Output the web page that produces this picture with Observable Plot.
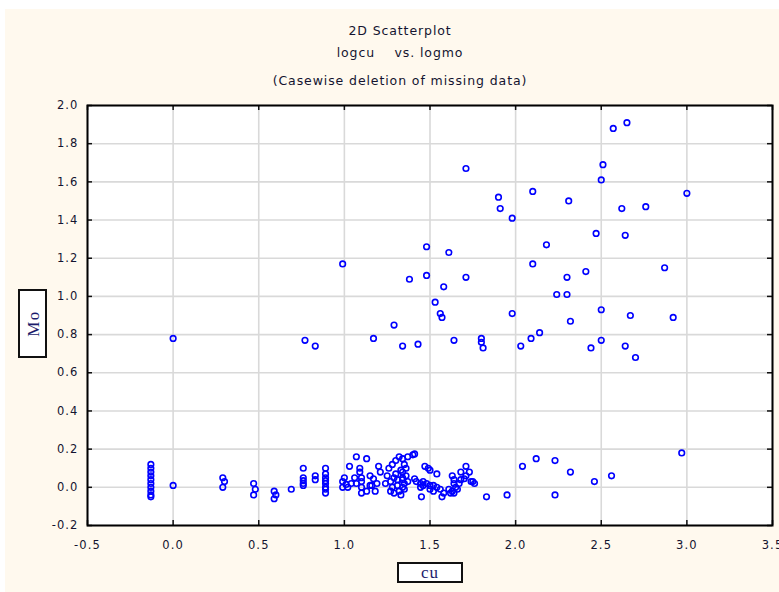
<!DOCTYPE html>
<html><head><meta charset="utf-8">
<script src="https://cdn.jsdelivr.net/npm/d3@7"></script>
<script src="https://cdn.jsdelivr.net/npm/@observablehq/plot@0.6"></script>
<style>
html,body{margin:0;padding:0;background:#fff;}
#chart svg g[aria-label$="tick label"] text{letter-spacing:1.1px;}
</style></head><body><div id="chart"></div>
<script>
const titleLines = ["2D Scatterplot", "logcu    vs. logmo", "(Casewise deletion of missing data)"];
const xLabel = "cu";
const yLabel = "Mo";
const xTicks = [-0.5, 0.0, 0.5, 1.0, 1.5, 2.0, 2.5, 3.0, 3.5];
const yTicks = [-0.2, 0.0, 0.2, 0.4, 0.6, 0.8, 1.0, 1.2, 1.4, 1.6, 1.8, 2.0];

// upper group of cases
const highCu = [2.57,2.65,2.51,2.50,1.71,2.10,1.90,1.91,1.98,2.31,3.00,2.62,2.76,2.47,2.64,2.18,1.48,1.61,0.99,2.10,
  2.87,1.48,1.38,1.71,2.30,2.41,1.58,2.24,2.30,1.53,1.56,1.57,1.98,2.50,2.67,2.92,1.29,2.32,1.17,0.77,
  0.83,1.34,1.43,1.64,1.80,1.80,1.81,2.03,2.09,2.14,2.44,2.50,2.64,2.70,0.00];
const highMo = [1.88,1.91,1.69,1.61,1.67,1.55,1.52,1.46,1.41,1.50,1.54,1.46,1.47,1.33,1.32,1.27,1.26,1.23,1.17,1.17,
  1.15,1.11,1.09,1.10,1.10,1.13,1.05,1.01,1.01,0.97,0.91,0.89,0.91,0.93,0.90,0.89,0.85,0.87,0.78,0.77,
  0.74,0.74,0.75,0.77,0.78,0.76,0.73,0.74,0.78,0.81,0.73,0.77,0.74,0.68,0.78];

// lower group of cases (near zero)
const lowCu = [-0.13,-0.13,-0.13,-0.13,-0.13,-0.13,-0.13,-0.13,-0.13,-0.13,
  0.00,0.29,0.30,0.29,0.47,0.48,0.47,0.59,0.60,0.59,0.69,
  0.76,0.76,0.76,0.76,0.76,0.83,0.83,0.89,0.89,0.89,0.89,0.89,0.89,0.89,0.89,
  0.99,0.99,1.00,1.01,1.02,1.04,1.03,1.07,1.13,1.09,1.09,1.10,1.10,1.10,1.10,1.06,1.07,
  1.15,1.17,1.16,1.13,1.15,1.20,1.21,1.19,1.18,1.24,
  1.26,1.28,1.30,1.32,1.34,1.37,
  1.25,1.27,1.28,1.29,1.30,1.31,1.31,1.32,1.33,1.34,1.35,1.35,1.36,1.37,1.27,1.29,1.33,1.36,
  1.40,1.41,1.35,1.34,1.34,1.34,1.41,1.42,
  1.445,1.46,1.48,1.50,1.52,1.54,1.56,1.52,1.50,1.445,1.46,
  1.45,1.47,1.49,1.50,1.54,1.57,1.58,
  1.61,1.62,1.64,1.63,1.64,1.65,1.67,1.66,1.68,1.70,1.71,1.71,1.73,1.74,1.75,1.76,1.68,1.63,1.64,
  1.83,1.95,2.04,2.12,2.23,2.23,2.32,2.46,2.56,2.97];
const lowMo = [0.12,0.10,0.08,0.06,0.04,0.02,0.00,-0.02,-0.04,-0.05,
  0.01,0.05,0.03,0.00,0.02,-0.01,-0.04,-0.02,-0.04,-0.06,-0.01,
  0.10,0.05,0.035,0.02,0.01,0.06,0.04,0.10,0.07,0.05,0.035,0.02,0.00,-0.01,-0.03,
  0.00,0.03,0.05,0.015,0.00,0.02,0.11,0.16,0.15,0.10,0.08,0.05,0.03,0.00,-0.03,0.05,0.02,
  0.06,0.045,0.01,-0.02,0.01,0.11,0.08,0.02,-0.02,0.02,
  0.10,0.12,0.14,0.16,0.15,0.16,
  0.06,0.03,0.00,-0.03,0.07,0.04,0.01,-0.02,0.09,0.05,0.02,-0.01,0.06,0.03,-0.02,0.05,-0.04,0.10,
  0.17,0.175,0.12,0.08,0.04,0.00,0.045,0.03,
  0.02,0.03,0.02,0.01,0.01,0.00,-0.01,-0.02,-0.01,0.00,0.01,
  -0.05,0.11,0.10,0.09,0.07,-0.05,-0.03,
  -0.01,-0.03,0.02,0.06,0.04,0.00,0.02,-0.01,0.04,0.045,0.06,0.11,0.08,0.03,0.03,0.02,0.08,-0.02,-0.03,
  -0.05,-0.04,0.11,0.15,0.14,-0.04,0.08,0.03,0.06,0.18];

const cases = [
  ...highCu.map((c, i) => ({cu: c, mo: highMo[i]})),
  ...lowCu.map((c, i) => ({cu: c, mo: lowMo[i]}))
];

const W = 779, H = 592, mL = 87, mR = 7, mT = 105, mB = 67;
const plotW = W - mL - mR, plotH = H - mT - mB;
const fmt = d => d.toFixed(1);

const chart = Plot.plot({
  width: W, height: H,
  marginLeft: mL, marginRight: mR, marginTop: mT, marginBottom: mB,
  x: {domain: [-0.5, 3.5]},
  y: {domain: [-0.2, 2.0]},
  style: {fontFamily: "DejaVu Sans", fontSize: "11.5px", color: "#141430", background: "transparent", overflow: "visible"},
  marks: [
    Plot.frame({fill: "white"}),
    Plot.gridX(xTicks, {stroke: "#d9d9d9", strokeOpacity: 1, strokeWidth: 1.6}),
    Plot.gridY(yTicks, {stroke: "#d9d9d9", strokeOpacity: 1, strokeWidth: 1.6}),
    Plot.tickY(yTicks, {y: d => d, stroke: "#111", strokeWidth: 1.5, insetRight: plotW - 5}),
    Plot.tickY(yTicks, {y: d => d, stroke: "#111", strokeWidth: 1.5, insetLeft: plotW - 5}),
    Plot.tickX(xTicks, {x: d => d, stroke: "#111", strokeWidth: 1.5, insetBottom: plotH - 5}),
    Plot.tickX(xTicks, {x: d => d, stroke: "#111", strokeWidth: 1.5, insetTop: plotH - 5}),
    Plot.axisX(xTicks, {tickSize: 0, tickPadding: 15, tickFormat: fmt, label: null}),
    Plot.axisY(yTicks, {tickSize: 0, tickPadding: 9, tickFormat: fmt, label: null}),
    Plot.dot(cases, {x: "cu", y: "mo", r: 2.8, stroke: "#0000ff", strokeWidth: 1.6, fill: "none"}),
    Plot.frame({stroke: "#000", strokeWidth: 2})
  ]
});

const svg = d3.select(chart);
svg.insert("rect", ":first-child")
  .attr("x", 5).attr("y", 9).attr("width", W - 5).attr("height", H - 9).attr("fill", "#fff9ee");

const titleY = [35, 57, 85];
titleLines.forEach((t, i) => {
  svg.append("text").attr("x", 400).attr("y", titleY[i]).attr("text-anchor", "middle")
    .attr("font-family", "DejaVu Sans").attr("font-size", 12.5).attr("letter-spacing", "0.9px")
    .attr("fill", "#141430").attr("xml:space", "preserve").style("white-space", "pre").text(t);
});

// y label box
svg.append("rect").attr("x", 19).attr("y", 290).attr("width", 27).attr("height", 67)
  .attr("fill", "white").attr("stroke", "#111").attr("stroke-width", 2);
svg.append("text").attr("transform", "translate(33,323.5) rotate(-90)")
  .attr("text-anchor", "middle").attr("dy", "0.35em")
  .attr("font-family", "Liberation Serif").attr("font-size", 17).attr("letter-spacing", "1.5px")
  .attr("fill", "#1b1b6b").text(yLabel);

// x label box
svg.append("rect").attr("x", 398).attr("y", 563).attr("width", 64).attr("height", 19)
  .attr("fill", "white").attr("stroke", "#111").attr("stroke-width", 2);
svg.append("text").attr("x", 430).attr("y", 572.5).attr("text-anchor", "middle").attr("dy", "0.35em")
  .attr("font-family", "Liberation Serif").attr("font-size", 17).attr("letter-spacing", "1px")
  .attr("fill", "#1b1b6b").text(xLabel);

document.getElementById("chart").appendChild(chart);
</script></body></html>
